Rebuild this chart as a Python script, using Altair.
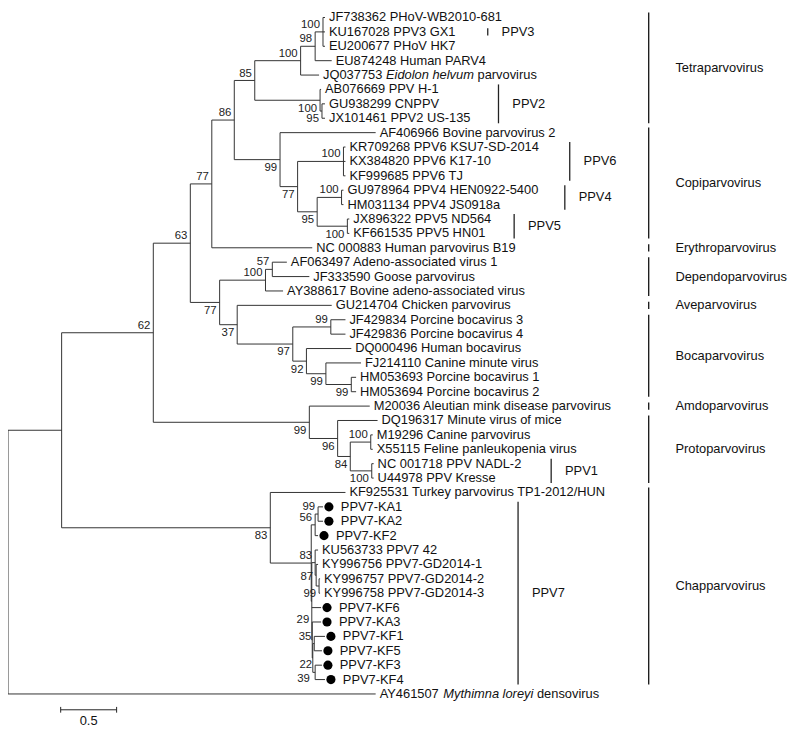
import altair as alt
import pandas as pd

# ---------------- data ----------------
LEAVES = [
    "JF738362 PHoV-WB2010-681", "KU167028 PPV3 GX1", "EU200677 PHoV HK7", "EU874248 Human PARV4",
    "JQ037753 Eidolon helvum parvovirus", "AB076669 PPV H-1", "GU938299 CNPPV", "JX101461 PPV2 US-135",
    "AF406966 Bovine parvovirus 2", "KR709268 PPV6 KSU7-SD-2014", "KX384820 PPV6 K17-10", "KF999685 PPV6 TJ",
    "GU978964 PPV4 HEN0922-5400", "HM031134 PPV4 JS0918a", "JX896322 PPV5 ND564", "KF661535 PPV5 HN01",
    "NC 000883 Human parvovirus B19", "AF063497 Adeno-associated virus 1", "JF333590 Goose parvovirus",
    "AY388617 Bovine adeno-associated virus", "GU214704 Chicken parvovirus", "JF429834 Porcine bocavirus 3",
    "JF429836 Porcine bocavirus 4", "DQ000496 Human bocavirus", "FJ214110 Canine minute virus",
    "HM053693 Porcine bocavirus 1", "HM053694 Porcine bocavirus 2", "M20036 Aleutian mink disease parvovirus",
    "DQ196317 Minute virus of mice", "M19296 Canine parvovirus", "X55115 Feline panleukopenia virus",
    "NC 001718 PPV NADL-2", "U44978 PPV Kresse", "KF925531 Turkey parvovirus TP1-2012/HUN",
    "PPV7-KA1", "PPV7-KA2", "PPV7-KF2", "KU563733 PPV7 42", "KY996756 PPV7-GD2014-1",
    "KY996757 PPV7-GD2014-2", "KY996758 PPV7-GD2014-3", "PPV7-KF6", "PPV7-KA3", "PPV7-KF1",
    "PPV7-KF5", "PPV7-KF3", "PPV7-KF4", "AY461507 Mythimna loreyi densovirus",
]
# distance from root of each leaf tip (substitutions/site)
LEAF_TIP = [
    2.834, 2.834, 2.834, 2.894, 2.781, 2.799, 2.834, 2.834,
    3.287, 3.017, 3.017, 3.017, 2.999, 2.999, 3.051, 3.051,
    2.720, 2.493, 2.694, 2.459, 2.894, 3.017, 3.017, 3.069,
    3.156, 3.112, 3.112, 3.234, 3.304, 3.261, 3.261, 3.269,
    3.269, 3.017, 2.816, 2.816, 2.772, 2.772, 2.772, 2.790,
    2.790, 2.799, 2.799, 2.834, 2.807, 2.807, 2.834, 3.287,
]
MARKED = [34, 35, 36, 41, 42, 43, 44, 45, 46]
ITALIC_PARTS = {
    4: ("JQ037753 ", "Eidolon helvum", " parvovirus"),
    47: ("AY461507 ", "Mythimna loreyi", " densovirus"),
}

NODE_ID = ["n100a", "n98", "n100b", "n95b", "n100c", "n85", "n100p6", "n100p4", "n100p5", "n95",
           "n77c", "n99cp", "n86", "n77u", "n57", "n100d", "n99b", "n99d", "n99c", "n92",
           "n97", "n37", "n77l", "n63", "n100cpv", "n100p1", "n84", "n96", "n99ap", "n62",
           "n99ka", "n56", "n99gd", "n87", "n83b", "n35", "n22", "n39", "n29", "nx",
           "np7", "n83", "nB", "root"]
NODE_DEPTH = [2.816, 2.746, 2.616, 2.807, 2.790, 2.206, 2.999, 2.982, 3.034, 2.764,
              2.589, 2.432, 2.023, 1.822, 2.363, 2.302, 2.886, 3.069, 2.842, 2.668,
              2.546, 2.049, 1.892, 1.630, 3.243, 3.252, 3.060, 2.947, 2.694, 1.299,
              2.772, 2.746, 2.781, 2.755, 2.746, 2.738, 2.746, 2.725, 2.720, 2.716,
              2.711, 2.345, 0.4795, 0.0]
NODE_CHILDREN = [[0, 1, 2], ["n100a", 3], ["n98", 4], [6, 7], [5, "n95b"], ["n100b", "n100c"],
                 [9, 10, 11], [12, 13], [14, 15], ["n100p4", "n100p5"],
                 ["n100p6", "n95"], [8, "n77c"], ["n85", "n99cp"], ["n86", 16], [17, 18], ["n57", 19],
                 [21, 22], [25, 26], [24, "n99d"], [23, "n99c"],
                 ["n99b", "n92"], [20, "n97"], ["n100d", "n37"], ["n77u", "n77l"], [29, 30], [31, 32],
                 ["n100cpv", "n100p1"], [28, "n84"], [27, "n96"], ["n63", "n99ap"],
                 [34, 35], ["n99ka", 36], [39, 40], [38, "n99gd"], [37, "n87"], [43, 44], [45, 46],
                 ["n35", "n22"], [42, "n39"], ["n83b", 41, "n29"],
                 ["n56", "nx"], [33, "np7"], ["n62", "n83"], ["nB", 47]]
NODE_SUPPORT = ["100", "98", "100", "95", "100", "85", "100", "100", "100", "95",
                "77", "99", "86", "77", "57", "100", "99", "99", "99", "92",
                "97", "37", "77", "63", "100", "100", "84", "96", "99", "62",
                "99", "56", "99", "87", "83", "35", "22", "39", "29", "",
                "", "83", "", ""]
NODE_SIDE = ["above", "above", "above", "below", "below", "above", "above", "above", "below", "below",
             "below", "below", "above", "above", "above", "above", "above", "below", "below", "below",
             "below", "below", "below", "above", "above", "below", "below", "below", "below", "above",
             "above", "above", "below", "mid", "above", "above", "above", "low", "high", "",
             "", "below", "", ""]

GENUS = ["Tetraparvovirus", "Copiparvovirus", "Erythroparvovirus", "Dependoparvovirus", "Aveparvovirus",
         "Bocaparvovirus", "Amdoparvovirus", "Protoparvovirus", "Chapparvovirus"]
GENUS_FIRST = [0, 8, 16, 17, 20, 21, 27, 28, 33]
GENUS_LAST = [7, 15, 16, 19, 20, 26, 27, 32, 46]

SUBTYPE = ["PPV3", "PPV2", "PPV6", "PPV4", "PPV5", "PPV1", "PPV7"]
SUB_FIRST = [1, 5, 9, 12, 14, 31, 34]
SUB_LAST = [1, 7, 11, 13, 15, 32, 46]

SCALE_LEN = 0.5
SCALE_LABEL = "0.5"

# ---------------- layout (not data) ----------------
W, H = 790, 722
PXU = 113.0                      # pixels per unit of branch length
GENUS_BAR_X = 5.728
SUB_BAR_X = [4.289, 4.385, 5.022, 4.978, 4.525, 4.856, 4.560]
SCALE_X0 = 0.471
SCALE_ROW = 48.1
FONT = "Liberation Sans, Arial, sans-serif"
SIDE_DY = {"above": -7, "below": 8.5, "mid": 2, "low": 21, "high": -20}

AW = dict(zip("abcdefghijklmnopqrstuvwxyz",
              [556, 556, 500, 556, 556, 278, 556, 556, 222, 222, 500, 222, 833, 556, 556, 556, 556, 333,
               500, 278, 556, 500, 722, 500, 500, 500]))
AW.update(dict(zip("ABCDEFGHIJKLMNOPQRSTUVWXYZ",
                   [667, 667, 722, 722, 667, 611, 778, 722, 278, 500, 667, 556, 833, 722, 778, 667, 778,
                    722, 667, 611, 722, 667, 944, 667, 667, 611])))
AW.update({" ": 278, "-": 333, "/": 278, ".": 278})


def tw(s, size=13.0):
    return sum(AW.get(c, 556) for c in s) * size / 1000.0


# ---------------- build tree geometry ----------------
node = {nid: (d, ch, sup, side) for nid, d, ch, sup, side in
        zip(NODE_ID, NODE_DEPTH, NODE_CHILDREN, NODE_SUPPORT, NODE_SIDE)}
ypos = {}


def gety(c):
    if isinstance(c, int):
        return float(c)
    if c not in ypos:
        ch = node[c][1]
        ypos[c] = (gety(ch[0]) + gety(ch[-1])) / 2.0
    return ypos[c]


def getx(c):
    return LEAF_TIP[c] if isinstance(c, int) else node[c][0]


segs = []
for nid, (d, ch, sup, side) in node.items():
    yy = [gety(c) for c in ch]
    segs.append(dict(x=d, x2=d, y=min(yy), y2=max(yy)))
    for c in ch:
        segs.append(dict(x=d, x2=getx(c), y=gety(c), y2=gety(c)))
seg_df = pd.DataFrame(segs)

normal_txt, italic_txt, dots = [], [], []
for i, name in enumerate(LEAVES):
    tip = LEAF_TIP[i]
    if i in ITALIC_PARTS:
        a, b, c = ITALIC_PARTS[i]
        normal_txt.append(dict(x=tip + 4 / PXU, y=i, t=a.strip()))
        italic_txt.append(dict(x=tip + (4 + tw(a)) / PXU, y=i, t=b.strip()))
        lead = len(c) - len(c.lstrip())
        normal_txt.append(dict(x=tip + (4 + tw(a) + tw(b) + tw(" " * lead)) / PXU, y=i, t=c.strip()))
    elif i in MARKED:
        dots.append(dict(x=tip + 6 / PXU, y=i))
        normal_txt.append(dict(x=tip + 18 / PXU, y=i, t=name))
    else:
        normal_txt.append(dict(x=tip + 4 / PXU, y=i, t=name))
normal_df = pd.DataFrame(normal_txt)
italic_df = pd.DataFrame(italic_txt)
dot_df = pd.DataFrame(dots)

sup_rows = [dict(x=d, y=gety(nid), t=sup, side=side)
            for nid, (d, ch, sup, side) in node.items() if sup]
sup_df = pd.DataFrame(sup_rows)


def extent(f, l):
    return (f - 0.35, l + 0.35) if l > f else (f - 0.25, l + 0.25)


gbar = []
for g, f, l in zip(GENUS, GENUS_FIRST, GENUS_LAST):
    a, b = extent(f, l)
    gbar.append(dict(x=GENUS_BAR_X, y=a, y2=b, ym=(a + b) / 2, t=g, xl=GENUS_BAR_X + 27 / PXU))
gbar_df = pd.DataFrame(gbar)

sbar = []
for s, f, l, bx in zip(SUBTYPE, SUB_FIRST, SUB_LAST, SUB_BAR_X):
    a, b = extent(f, l)
    sbar.append(dict(x=bx, y=a, y2=b, ym=(a + b) / 2, t=s, xl=bx + 14 / PXU))
sbar_df = pd.DataFrame(sbar)

scale_df = pd.DataFrame([dict(x=SCALE_X0, x2=SCALE_X0 + SCALE_LEN, y=SCALE_ROW, y2=SCALE_ROW)])
scale_ticks = pd.DataFrame([dict(x=SCALE_X0, x2=SCALE_X0, y=SCALE_ROW - 0.2, y2=SCALE_ROW + 0.2),
                            dict(x=SCALE_X0 + SCALE_LEN, x2=SCALE_X0 + SCALE_LEN,
                                 y=SCALE_ROW - 0.2, y2=SCALE_ROW + 0.2)])
scale_lab = pd.DataFrame([dict(x=SCALE_X0 + SCALE_LEN / 2, y=SCALE_ROW + 0.78, t=SCALE_LABEL)])

# ---------------- chart ----------------
XS = alt.Scale(domain=[0, W / PXU], nice=False, zero=False)
YS = alt.Scale(domain=[-0.406, 49.25], nice=False, zero=False, reverse=True)


def X(f="x"):
    return alt.X(f + ":Q", scale=XS, axis=None)


def Y(f="y"):
    return alt.Y(f + ":Q", scale=YS, axis=None)


tree = alt.Chart(seg_df).mark_rule(color="#333333", strokeWidth=1).encode(
    x=X(), x2="x2:Q", y=Y(), y2="y2:Q")

leaf_txt = alt.Chart(normal_df).mark_text(align="left", baseline="middle", font=FONT,
                                          fontSize=13, color="#111111").encode(
    x=X(), y=Y(), text="t:N")
leaf_ital = alt.Chart(italic_df).mark_text(align="left", baseline="middle", font=FONT, fontSize=13,
                                           fontStyle="italic", color="#111111").encode(
    x=X(), y=Y(), text="t:N")
dot_layer = alt.Chart(dot_df).mark_circle(size=85, color="black", opacity=1).encode(x=X(), y=Y())

sup_layers = []
for side, dy in SIDE_DY.items():
    sup_layers.append(
        alt.Chart(sup_df).transform_filter(alt.datum.side == side).mark_text(
            align="right", baseline="middle", font=FONT, fontSize=11.5, dx=-3, dy=dy,
            color="#222222").encode(x=X(), y=Y(), text="t:N"))

gbars = alt.Chart(gbar_df).mark_rule(color="#111111", strokeWidth=1.3).encode(
    x=X(), y=Y(), y2="y2:Q")
glabs = alt.Chart(gbar_df).mark_text(align="left", baseline="middle", font=FONT, fontSize=13,
                                     color="#111111").encode(x=X("xl"), y=Y("ym"), text="t:N")
sbars = alt.Chart(sbar_df).mark_rule(color="#222222", strokeWidth=1.3).encode(
    x=X(), y=Y(), y2="y2:Q")
slabs = alt.Chart(sbar_df).mark_text(align="left", baseline="middle", font=FONT, fontSize=13,
                                     color="#111111").encode(x=X("xl"), y=Y("ym"), text="t:N")

sbar_line = alt.Chart(scale_df).mark_rule(color="#222222", strokeWidth=1).encode(
    x=X(), x2="x2:Q", y=Y(), y2="y2:Q")
sbar_ticks = alt.Chart(scale_ticks).mark_rule(color="#222222", strokeWidth=1).encode(
    x=X(), x2="x2:Q", y=Y(), y2="y2:Q")
sbar_lab = alt.Chart(scale_lab).mark_text(align="center", baseline="middle", font=FONT, fontSize=13,
                                          color="#111111").encode(x=X(), y=Y(), text="t:N")

chart = alt.layer(tree, dot_layer, leaf_txt, leaf_ital, *sup_layers, gbars, glabs, sbars, slabs,
                  sbar_line, sbar_ticks, sbar_lab).properties(
    width=W, height=H, padding=0, autosize=alt.AutoSizeParams(type="none"),
    background="white").configure_view(stroke=None)

chart.save("out.html", embed_options={"renderer": "svg", "actions": False})
